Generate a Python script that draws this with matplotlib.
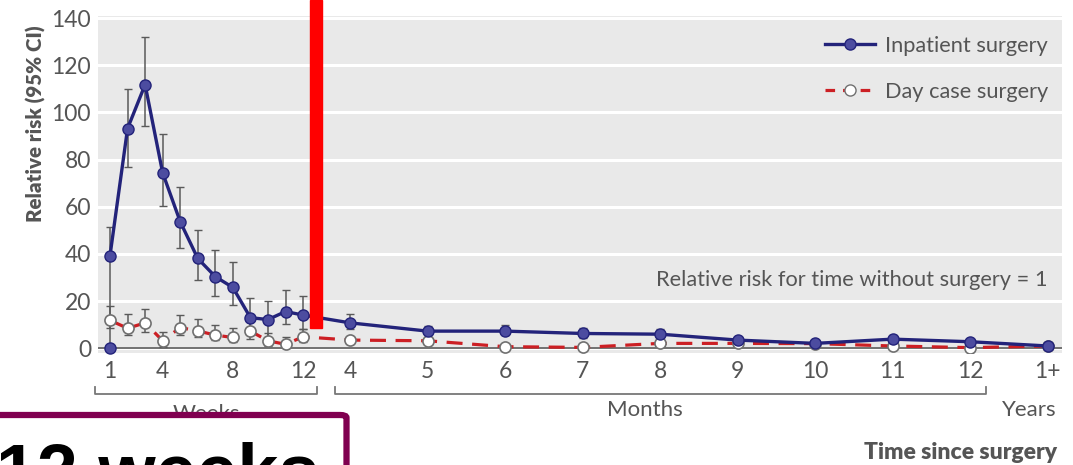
import matplotlib.pyplot as plt
import numpy as np
import matplotlib.transforms as mtransforms
from matplotlib.patches import Rectangle, FancyBboxPatch
from matplotlib.lines import Line2D

plt.rcParams['font.family'] = ['Lato', 'DejaVu Sans']

# ---- data ----
week_nums = [1, 2, 3, 4, 5, 6, 7, 8, 9, 10, 11, 12]
week_tick_labels = ['1', '4', '8', '12']
month_labels = ['4', '5', '6', '7', '8', '9', '10', '11', '12', '1+']

# inpatient surgery, weeks 1-12
inpat_week = [39.3, 93.2, 111.8, 74.4, 53.7, 38.1, 30.4, 25.8, 13.0, 12.2, 15.6, 14.1]
inpat_week_hi = [51.6, 110.0, 132.2, 91.0, 68.2, 50.2, 41.5, 36.5, 21.3, 19.9, 24.8, 22.4]
inpat_week_lo = [0.5, 76.9, 94.4, 60.3, 42.7, 28.9, 22.0, 18.5, 6.3, 4.2, 10.5, 8.4]
# inpatient surgery, months 4-12 and 1+ years
inpat_month = [10.8, 7.3, 7.3, 6.3, 6.0, 3.5, 2.1, 3.9, 2.8, 1.0]
inpat_month_hi = [14.5, 9.5, 10.0, 8.5, 8.0, 5.0, 3.5, 5.5, 4.0, 1.5]
inpat_month_lo = [8.0, 5.5, 5.5, 4.5, 4.5, 2.5, 1.2, 2.8, 2.0, 0.7]
inpat_day0 = 0.0

# day case surgery
day_week = [11.9, 8.5, 10.8, 3.2, 8.8, 7.4, 5.6, 4.6, 7.3, 3.2, 1.7, 4.9]
day_week_hi = [17.8, 14.6, 16.5, 7.0, 14.3, 12.6, 9.8, 8.8, 12.6, 6.3, 4.6, 8.4]
day_week_lo = [8.5, 5.6, 7.0, 0.5, 5.6, 4.6, 3.5, 2.5, 3.8, 0.8, 0.4, 2.5]
day_month = [3.5, 3.2, 0.7, 0.4, 2.1, 2.1, 2.0, 1.0, 0.3, 1.0]

# ---- layout ----
W, H = 1073, 465
week_pos = np.array(week_nums, dtype=float)
month_pos = 14.68 + 4.416 * np.arange(len(month_labels))
x_all = np.concatenate([week_pos, month_pos])

blue = '#23237a'
blue_face = '#4c4ca0'
red = '#cc1f24'
txt = '#555555'
bg = '#e9e9e9'

fig = plt.figure(figsize=(W / 100, H / 100), dpi=100)
ax = fig.add_axes([98 / W, 1 - 352.7 / H, (1062 - 98) / W, (352.7 - 16) / H])
ax.set_facecolor(bg)
for s in ax.spines.values():
    s.set_visible(False)
ax.set_xlim(0.316, 55.24)
ax.set_ylim(-1.85, 140.9)
ax.set_yticks(range(0, 141, 20))
ax.yaxis.grid(True, color='white', lw=2.2)
ax.set_axisbelow(True)
ax.axhline(0, color='#666666', lw=1.3, zorder=2)

ax.tick_params(axis='y', length=0, labelsize=16.5, labelcolor=txt, pad=5)
ax.set_xticks(list(week_pos[[0, 3, 7, 11]]) + list(month_pos))
ax.set_xticklabels(week_tick_labels + month_labels)
ax.tick_params(axis='x', length=0, labelsize=16.5, labelcolor=txt, pad=6)
ax.set_ylabel('Relative risk (95% CI)', fontsize=14.8, fontweight='heavy', color=txt)
ax.yaxis.set_label_coords(-52 / 964, 0.68)

# error bars
ax.errorbar(week_pos, inpat_week,
            yerr=[np.subtract(inpat_week, inpat_week_lo), np.subtract(inpat_week_hi, inpat_week)],
            fmt='none', ecolor='#5a5a5a', elinewidth=1.1, capsize=3, zorder=3)
ax.errorbar(month_pos, inpat_month,
            yerr=[np.subtract(inpat_month, inpat_month_lo), np.subtract(inpat_month_hi, inpat_month)],
            fmt='none', ecolor='#5a5a5a', elinewidth=1.1, capsize=3, zorder=3)
ax.errorbar(week_pos, day_week,
            yerr=[np.subtract(day_week, day_week_lo), np.subtract(day_week_hi, day_week)],
            fmt='none', ecolor='#5a5a5a', elinewidth=1.1, capsize=3, zorder=3)

# day case series
ax.plot(x_all, day_week + day_month, color=red, lw=2.3, dashes=(5, 3), zorder=4)
ax.plot(x_all, day_week + day_month, ls='none', marker='o', ms=8, mfc='white',
        mec='#707070', mew=1.2, zorder=5)

# inpatient series
ax.plot(x_all, inpat_week + inpat_month, color=blue, lw=2.4, zorder=6)
ax.plot(x_all, inpat_week + inpat_month, ls='none', marker='o', ms=8, mfc=blue_face,
        mec=blue, mew=1.0, zorder=7)
ax.plot([week_pos[0]], [inpat_day0], ls='none', marker='o', ms=8, mfc=blue_face,
        mec=blue, mew=1.0, zorder=7, clip_on=False)

ax.text(month_pos[-1], 28.8, 'Relative risk for time without surgery = 1',
        ha='right', va='center', fontsize=15.7, color=txt)

# legend
h1 = Line2D([], [], color=blue, lw=2.4, marker='o', ms=8, mfc=blue_face, mec=blue)
h2 = Line2D([], [], color=red, lw=2.3, dashes=(3, 2.5), marker='o', ms=8, mfc='white', mec='#707070')
leg = ax.legend([h1, h2], ['Inpatient surgery', 'Day case surgery'], loc='upper right',
                bbox_to_anchor=(1.006, 1.0), frameon=False, fontsize=15.7, labelcolor=txt,
                handlelength=2.3, handletextpad=0.45, labelspacing=1.2, numpoints=1,
                borderaxespad=0.5)

# brackets under the axis
tb = mtransforms.blended_transform_factory(ax.transData, fig.transFigure)
yb, yt = 1 - 394 / H, 1 - 387 / H
for x0, x1 in [(week_pos[0] - 0.85, week_pos[-1] + 0.8), (month_pos[0] - 0.86, month_pos[-2] + 0.9)]:
    ax.plot([x0, x0, x1, x1], [yt, yb, yb, yt], color='#777777', lw=1.3,
            transform=tb, clip_on=False)
ax.text((week_pos[0] + week_pos[-1]) / 2, 1 - 414 / H, 'Weeks', transform=tb,
        ha='center', va='center', fontsize=16, color=txt)
ax.text(645 / W, 1 - 410 / H, 'Months', transform=fig.transFigure,
        ha='center', va='center', fontsize=16, color=txt)
ax.text(1057 / W, 1 - 410 / H, 'Years', transform=fig.transFigure,
        ha='right', va='center', fontsize=16, color=txt)
fig.text(1057 / W, 1 - 452 / H, 'Time since surgery', ha='right', va='center',
         fontsize=16.5, fontweight='heavy', color=txt)

# red marker bar and the boxed caption
fig.patches.append(Rectangle((310 / W, 1 - 328 / H), 12 / W, 328 / H,
                             transform=fig.transFigure, color='#ff0000', zorder=5))
fig.patches.append(FancyBboxPatch((-30 / W, -40 / H), 376.5 / W, (40 + 465 - 415) / H,
                                  boxstyle='round,pad=0,rounding_size=0.006',
                                  transform=fig.transFigure, fc='white', ec='#800050',
                                  lw=4.5, zorder=5))
fig.text(-4 / W, 1 - 495 / H, '12 weeks', ha='left', va='baseline', fontsize=53,
         fontweight='bold', family=['Liberation Sans', 'DejaVu Sans'], color='black', zorder=6)

fig.savefig('out.png', dpi=100)
